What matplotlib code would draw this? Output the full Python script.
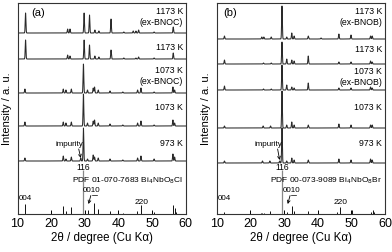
import numpy as np
import matplotlib.pyplot as plt

plt.rcParams['font.family'] = ['Liberation Sans', 'DejaVu Sans']

# peak positions (deg) and heights (a.u.)
samples = ['1173 K\n(ex-BNOC)', '1173 K', '1073 K\n(ex-BNOC)', '1073 K', '973 K']
samples_b = ['1173 K\n(ex-BNOB)', '1173 K', '1073 K\n(ex-BNOB)', '1073 K', '973 K']

a_peaks = [
    ([12.4, 24.9, 25.6, 29.8, 31.4, 33.0, 34.2, 37.8, 41.6, 44.4, 45.2, 46.0, 50.6, 56.3],
     [20, 4, 4, 20, 18, 3, 2, 14, 1, 2, 2, 3, 1, 6]),
    ([12.4, 24.9, 25.6, 29.8, 31.4, 33.0, 34.2, 37.8, 41.6, 45.2, 46.0, 50.6, 56.3],
     [19, 4, 3, 19, 14, 3, 2, 9, 1, 1, 2, 1, 6]),
    ([12.2, 23.6, 24.4, 26.0, 29.6, 30.8, 32.5, 32.9, 34.0, 37.5, 41.3, 45.7, 46.7, 50.6, 56.2, 56.7],
     [4, 4, 3, 4, 29, 3, 5, 6, 3, 2, 1, 3, 5, 1, 6, 3]),
    ([12.2, 23.6, 24.4, 26.0, 29.6, 30.8, 32.5, 32.9, 34.0, 37.5, 41.3, 45.7, 46.7, 50.6, 56.2, 56.7],
     [4, 4, 3, 4, 32, 3, 5, 6, 3, 2, 1, 3, 5, 1, 6, 3]),
    ([12.2, 23.6, 24.4, 26.0, 28.8, 29.6, 30.8, 32.5, 32.9, 34.0, 37.5, 41.3, 45.7, 46.7, 50.6, 56.2, 56.7],
     [3, 5, 2, 4, 3, 33, 2, 6, 4, 3, 2, 1, 3, 5, 2, 7, 4]),
]
b_peaks = [
    ([12.3, 23.4, 24.0, 26.2, 29.4, 30.8, 32.3, 33.0, 37.2, 41.0, 46.3, 49.9, 55.7, 56.2],
     [3, 2, 2, 2, 33, 2, 6, 3, 3, 1, 5, 4, 3, 3]),
    ([12.3, 23.9, 26.2, 29.4, 30.8, 32.3, 33.0, 37.2, 46.3, 49.9, 55.7, 56.2],
     [4, 1, 1, 22, 5, 4, 3, 8, 2, 2, 3, 2]),
    ([12.3, 23.9, 26.2, 29.4, 30.8, 32.3, 33.0, 37.2, 46.3, 49.9, 55.7, 56.2],
     [4, 1, 1, 25, 5, 3, 2, 7, 2, 2, 3, 2]),
    ([12.3, 23.8, 26.0, 29.4, 30.8, 32.3, 33.0, 37.2, 46.3, 49.9, 55.7, 56.2],
     [2, 2, 2, 37, 3, 6, 3, 3, 4, 3, 3, 3]),
    ([12.3, 23.6, 25.8, 28.7, 29.4, 30.8, 32.3, 33.0, 37.2, 46.3, 49.9, 55.7, 56.2],
     [2, 2, 2, 2, 35, 2, 5, 3, 3, 4, 3, 4, 3]),
]

# reference patterns (stick positions, heights)
a_ref_pos = [12.2, 23.6, 24.4, 26.0, 29.6, 31.1, 32.7, 33.8, 37.4, 41.5, 45.6, 46.8, 50.6, 56.2, 56.7, 57.2]
a_ref_int = [10, 8, 3, 7, 44, 4, 11, 5, 3, 1, 3, 9, 2, 9, 6, 2]
b_ref_pos = [12.3, 23.2, 23.6, 24.2, 25.9, 29.5, 30.8, 32.4, 33.0, 37.2, 45.6, 46.6, 50.1, 55.8, 56.3, 56.7]
b_ref_int = [2, 1, 1, 1, 3, 44, 2, 8, 3, 3, 2, 7, 4, 2, 4, 2]

offsets_a = [181, 155, 121, 88, 53]
offsets_b = [175, 150, 124, 86, 51]
label_y_a = [197, 167, 138, 106, 70]
label_y_b = [197, 164, 137, 106, 70]

tt = np.linspace(10, 60, 3000)


def pattern(pos, hgt, w=0.15):
    y = np.zeros_like(tt)
    for p, h in zip(pos, hgt):
        y += h * np.exp(-((tt - p) / w) ** 2)
    return y


fig = plt.figure(figsize=(3.92, 2.52), dpi=100)
ax_a = fig.add_axes([17.5 / 392, 38 / 252, 168.2 / 392, 211 / 252])
ax_b = fig.add_axes([216.7 / 392, 38 / 252, 168.3 / 392, 211 / 252])

panels = [
    (ax_a, '(a)', 14.2, a_peaks, offsets_a, samples, label_y_a, a_ref_pos, a_ref_int,
     'PDF 01-070-7683 Bi$_4$NbO$_8$Cl', 28.8, 29.6),
    (ax_b, '(b)', 12.0, b_peaks, offsets_b, samples_b, label_y_b, b_ref_pos, b_ref_int,
     'PDF 00-073-9089 Bi$_4$NbO$_8$Br', 28.7, 29.5),
]

for ax, tag, tag_x, peaks, offs, labels, ly, rpos, rint, pdf, imp, p116 in panels:
    for (pos, hgt), off, lab, yy in zip(peaks, offs, labels, ly):
        ax.plot(tt, off + pattern(pos, hgt), color='#2a2a2a', lw=0.75)
        ax.text(59.2, yy, lab, ha='right', va='center', fontsize=6.3,
                linespacing=1.25)
    for p, h in zip(rpos, rint):
        c = '#888888' if p == p116 else '#111111'
        ax.vlines(p, 0, h, color=c, lw=0.9 if p == p116 else 0.7)
    ax.text(tag_x, 201, tag, fontsize=8, va='center')
    ax.text(59.2, 33, pdf, ha='right', va='center', fontsize=6.0)
    ax.text(p116, 47, '116', ha='center', va='center', fontsize=6.2)
    ax.text(12.4, 15, '004', ha='center', va='center', fontsize=5.8)
    ax.text(46.8, 12, '220', ha='center', va='center', fontsize=6)
    ax.text(32.1, 23, '0010', ha='center', va='center', fontsize=5.8)
    ax.plot([32.2, 33.5], [19, 19], color='k', lw=0.5)
    ax.annotate('', xy=(31.1, 10), xytext=(31.8, 18.5),
                arrowprops=dict(arrowstyle='->', lw=0.6, color='k',
                                shrinkA=0, shrinkB=0, mutation_scale=5))
    ax.text(imp - 3.4, 70, 'impurity', ha='center', va='center', fontsize=5.8)
    ax.annotate('', xy=(imp, offs[4] + 3), xytext=(imp - 0.6, 65),
                arrowprops=dict(arrowstyle='->', lw=0.6, color='k',
                                shrinkA=0, shrinkB=0, mutation_scale=5))

    ax.set_xlim(10, 60)
    ax.set_ylim(0, 211)
    ax.set_yticks([])
    ax.set_xticks([10, 20, 30, 40, 50, 60])
    ax.tick_params(axis='x', direction='in', length=3, width=0.7, labelsize=9, pad=3)
    for s in ax.spines.values():
        s.set_linewidth(0.8)
        s.set_color('#333333')
    ax.set_xlabel('2θ / degree (Cu Kα)', fontsize=8.3, labelpad=1)
    ax.set_ylabel('Intensity / a. u.', fontsize=8, labelpad=4)

fig.savefig('out.png', dpi=100)
